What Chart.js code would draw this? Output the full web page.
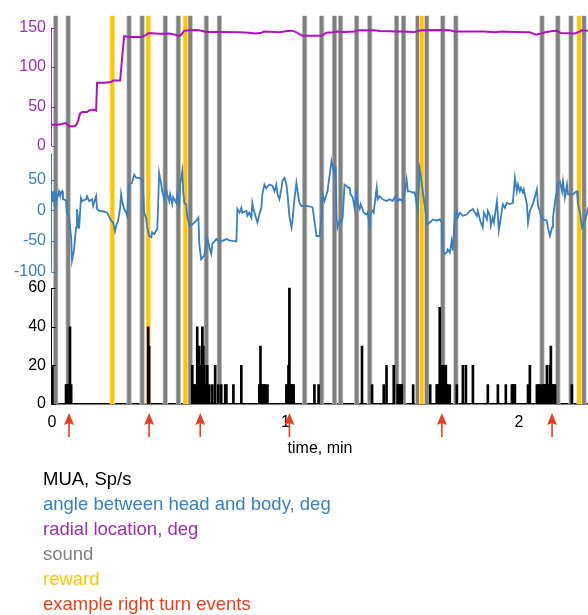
<!DOCTYPE html>
<html>
<head>
<meta charset="utf-8">
<script src="https://cdn.jsdelivr.net/npm/chart.js@4.4.1/dist/chart.umd.min.js"></script>
<style>
  body { margin: 0; background: #fff; }
  #wrap { position: relative; width: 588px; height: 615px; overflow: hidden; }
  #legend { position: absolute; left: 43px; top: 466px; font: 18.5px/25px "Liberation Sans", Arial, sans-serif; white-space: nowrap; }
</style>
</head>
<body>
<div id="wrap">
  <canvas id="myChart" width="588" height="470"></canvas>
  <div id="legend">
    <div style="color:#000">MUA, Sp/s</div>
    <div style="color:#3a7fc0">angle between head and body, deg</div>
    <div style="color:#9b2fae">radial location, deg</div>
    <div style="color:#808080">sound</div>
    <div style="color:#ffc400">reward</div>
    <div style="color:#e8401c">example right turn events</div>
  </div>
</div>
<script>
// time axis (minutes)
const xMax = 2.296;
const xTicks = [0, 1, 2];

// radial location, deg  [time, value]
const radialPts = [
  [0.000,27],[0.021,27],[0.043,28],[0.056,29],[0.064,28],[0.073,25],[0.094,25],[0.103,26],
  [0.112,32],[0.120,41],[0.129,43],[0.150,43],[0.159,45],[0.172,46],[0.180,46],[0.189,45],
  [0.193,80],[0.223,80],[0.253,81],[0.262,83],[0.292,83],[0.300,110],[0.309,139],[0.330,138],
  [0.382,138],[0.399,140],[0.416,143],[0.459,142],[0.502,142.5],[0.528,141],[0.541,139],[0.554,141],
  [0.567,146],[0.609,147],[0.631,146.5],[0.661,144.5],[0.717,144.5],[0.803,144],[0.845,143.5],[0.871,142.5],
  [0.897,143.5],[0.910,145],[0.953,144.5],[0.974,144],[1.009,145.5],[1.030,146],[1.047,144],[1.060,141.5],
  [1.073,139.5],[1.146,139.5],[1.155,140],[1.176,143.5],[1.202,144],[1.219,145],[1.253,144.5],[1.296,145],
  [1.309,146.5],[1.382,146.5],[1.403,145.5],[1.489,145],[1.554,144.5],[1.567,145.5],[1.584,146.5],[1.661,147],
  [1.704,146.5],[1.725,145],[1.790,145],[1.850,145],[1.897,144],[1.927,145],[1.983,144.5],[2.047,144],
  [2.073,141],[2.090,142],[2.112,144],[2.146,145.5],[2.163,146],[2.180,143],[2.240,142.5],[2.253,144],
  [2.270,146.5],[2.296,146]
];

// angle between head and body, deg  [time, value]
const anglePts = [
  [0.000,15],[0.004,31],[0.009,15],[0.013,31],[0.017,12],[0.030,31],[0.034,26],[0.043,31],[0.047,18],
  [0.060,16],[0.064,-4],[0.073,-12],[0.082,-44],[0.086,-82],[0.094,-66],[0.103,-28],[0.107,2],[0.116,-30],
  [0.124,20],[0.129,15],[0.146,18],[0.150,23],[0.159,15],[0.172,18],[0.176,7],[0.189,23],[0.193,2],
  [0.202,-1],[0.223,-2],[0.236,-4],[0.253,-17],[0.262,-20],[0.270,-34],[0.275,-25],[0.283,-17],[0.292,4],
  [0.296,26],[0.300,15],[0.309,2],[0.318,-4],[0.322,-9],[0.330,42],[0.343,45],[0.352,58],[0.361,53],
  [0.373,53],[0.386,50],[0.391,26],[0.395,-4],[0.403,-12],[0.408,-28],[0.416,-42],[0.425,-44],[0.429,-36],
  [0.438,-39],[0.446,-33],[0.451,-31],[0.459,61],[0.468,42],[0.472,31],[0.481,18],[0.489,36],[0.494,26],
  [0.502,15],[0.506,26],[0.515,10],[0.519,21],[0.532,12],[0.536,26],[0.545,10],[0.549,42],[0.558,64],
  [0.562,31],[0.567,12],[0.575,10],[0.579,-9],[0.588,-25],[0.601,-23],[0.618,-17],[0.627,-12],[0.631,-55],
  [0.639,-80],[0.652,-74],[0.661,-55],[0.665,-44],[0.674,-60],[0.682,-71],[0.687,-55],[0.704,-47],[0.717,-52],
  [0.730,-50],[0.747,-47],[0.760,-49],[0.773,-50],[0.790,-51],[0.794,2],[0.803,-4],[0.811,4],[0.815,-4],
  [0.833,-1],[0.837,-9],[0.845,-4],[0.854,-12],[0.858,12],[0.863,2],[0.876,-15],[0.880,-20],[0.888,-7],
  [0.897,4],[0.901,26],[0.910,42],[0.918,36],[0.931,42],[0.944,40],[0.953,31],[0.961,42],[0.966,26],
  [0.974,18],[0.983,36],[0.987,48],[0.996,53],[1.004,42],[1.009,26],[1.017,-10],[1.026,-28],[1.030,-17],
  [1.039,20],[1.047,45],[1.052,31],[1.060,12],[1.069,7],[1.090,7],[1.116,5],[1.133,-42],[1.146,-42],
  [1.155,-12],[1.159,26],[1.167,15],[1.172,21],[1.180,31],[1.197,80],[1.202,72],[1.210,58],[1.215,72],
  [1.219,-12],[1.223,-28],[1.232,-17],[1.240,-20],[1.245,-12],[1.249,15],[1.253,42],[1.262,40],[1.266,37],
  [1.275,37],[1.279,26],[1.288,21],[1.296,4],[1.305,34],[1.309,10],[1.318,2],[1.322,10],[1.330,2],
  [1.335,-4],[1.348,-7],[1.352,-4],[1.361,-25],[1.365,-4],[1.373,-1],[1.378,-4],[1.391,37],[1.395,18],
  [1.403,23],[1.416,18],[1.433,15],[1.446,18],[1.459,15],[1.472,23],[1.481,15],[1.489,18],[1.502,15],
  [1.511,29],[1.519,50],[1.524,31],[1.532,31],[1.545,29],[1.554,29],[1.562,10],[1.567,-1],[1.575,67],
  [1.579,58],[1.588,31],[1.597,7],[1.605,-17],[1.609,-23],[1.618,-20],[1.627,-17],[1.631,-15],[1.648,-17],
  [1.661,-15],[1.670,-20],[1.674,-66],[1.682,-71],[1.691,-69],[1.695,-64],[1.704,-69],[1.712,-50],[1.717,-66],
  [1.725,-12],[1.734,-1],[1.738,-12],[1.747,-4],[1.760,-9],[1.777,-7],[1.790,-1],[1.803,2],[1.807,-1],
  [1.820,-9],[1.824,-1],[1.833,-15],[1.837,-20],[1.845,-28],[1.850,-4],[1.863,-15],[1.867,-1],[1.876,-9],
  [1.880,-25],[1.888,-12],[1.893,-20],[1.906,15],[1.910,-9],[1.914,-33],[1.927,-1],[1.931,10],[1.940,4],
  [1.948,12],[1.961,10],[1.974,12],[1.983,53],[1.991,31],[1.996,42],[2.004,31],[2.009,37],[2.017,29],
  [2.021,34],[2.034,10],[2.039,-20],[2.047,-1],[2.060,10],[2.077,34],[2.082,7],[2.090,-1],[2.094,-9],
  [2.103,-15],[2.120,-17],[2.124,-28],[2.133,-42],[2.142,-28],[2.146,-12],[2.155,15],[2.163,31],[2.167,45],
  [2.176,47],[2.185,31],[2.189,47],[2.197,21],[2.206,42],[2.210,26],[2.219,26],[2.232,26],[2.240,29],
  [2.249,31],[2.253,10],[2.262,-4],[2.270,-28],[2.275,-23],[2.283,-17],[2.292,-4],[2.296,5]
];

// MUA, Sp/s  [time, rate]
const muaPts = [
  [0.002,20],
  [0.060,10],[0.064,10],[0.069,10],[0.073,10],[0.077,40],[0.082,10],
  [0.412,40],[0.416,30],
  [0.601,20],[0.605,10],[0.609,10],[0.614,10],[0.622,40],[0.631,30],[0.635,20],[0.639,20],[0.644,40],
  [0.648,30],[0.652,20],[0.657,10],[0.665,20],[0.674,10],[0.687,10],[0.699,20],[0.712,10],[0.725,10],
  [0.742,10],[0.747,10],[0.777,10],[0.811,20],
  [0.888,10],[0.893,30],[0.897,10],[0.901,10],[0.906,10],[0.910,10],[0.914,10],[0.923,10],
  [1.004,10],[1.009,10],[1.013,20],[1.017,60],[1.021,10],[1.026,10],[1.030,10],[1.035,10],
  [1.124,10],[1.142,10],
  [1.328,30],[1.371,10],[1.421,10],[1.433,20],[1.464,20],
  [1.481,10],[1.485,10],[1.489,10],[1.494,10],[1.498,10],
  [1.547,10],[1.620,10],
  [1.648,10],[1.652,10],[1.657,10],[1.661,50],[1.665,20],[1.670,20],[1.674,20],[1.678,20],[1.682,10],
  [1.687,20],[1.691,10],[1.695,10],[1.704,10],
  [1.734,10],[1.760,20],[1.773,20],[1.803,20],[1.867,10],[1.910,10],[1.944,10],
  [1.970,10],[1.974,10],[1.979,10],[1.983,10],
  [2.039,10],[2.047,20],
  [2.077,10],[2.082,10],[2.086,10],[2.094,10],
  [2.103,10],[2.107,10],[2.112,10],[2.116,10],[2.120,20],[2.124,10],[2.129,10],[2.133,20],[2.137,30],
  [2.142,10],[2.146,10],[2.150,10],[2.155,10],
  [2.227,10]
];

// event times (minutes)
const soundTimes = [0.016,0.069,0.330,0.386,0.485,0.541,0.592,0.661,0.717,1.082,1.155,1.210,1.236,
  1.305,1.361,1.476,1.506,1.567,1.605,1.674,1.730,2.099,2.167,2.223,2.279];
const rewardTimes = [0.258,0.412,0.571,1.584,2.258];
const turnTimes = [0.073,0.416,0.635,1.017,1.670,2.142];

// tick labels
const radialTicks = [0, 50, 100, 150];
const angleTicks = [-100, -50, 0, 50];
const muaTicks = [0, 20, 40, 60];

const PURPLE = '#b30fc4', PURPLE_TXT = '#9e2db2', BLUE = '#3a7fc0', RED = '#e8401c';
const FONT = { family: '"Liberation Sans", Arial, sans-serif', size: 16 };

const toXY = pts => pts.map(p => ({ x: p[0], y: p[1] }));
const fixTicks = arr => s => { s.ticks = arr.map(v => ({ value: v })); };

function yPanel(ticks, color, min, max, weight) {
  return {
    type: 'linear', position: 'left', stack: 'panels', stackWeight: weight,
    min: min, max: max, stacked: false,
    grid: { display: false, drawTicks: false },
    border: { display: false },
    ticks: { font: FONT, color: color, padding: 6 },
    afterBuildTicks: fixTicks(ticks),
    afterFit: s => { s.width = 52; }
  };
}

// axis lines with short inward ticks, only over the tick range
const axisLines = {
  id: 'axisLines',
  afterDatasetsDraw(chart) {
    const ctx = chart.ctx;
    const x0 = Math.floor(chart.chartArea.left) - 0.5;
    const axes = [['yR', 0, 150, PURPLE_TXT], ['yA', -100, 93, BLUE], ['yM', 0, 60, '#000']];
    ctx.save();
    ctx.lineWidth = 1;
    for (const [id, lo, hi, color] of axes) {
      const s = chart.scales[id];
      ctx.strokeStyle = color;
      ctx.beginPath();
      ctx.moveTo(x0, s.getPixelForValue(lo));
      ctx.lineTo(x0, s.getPixelForValue(hi));
      for (const t of s.ticks) {
        const y = Math.round(s.getPixelForValue(t.value)) + 0.5;
        ctx.moveTo(x0, y);
        ctx.lineTo(x0 + 4, y);
      }
      ctx.stroke();
    }
    ctx.restore();
  }
};

// red arrows under the time axis
const turnArrows = {
  id: 'turnArrows',
  afterDraw(chart) {
    const ctx = chart.ctx;
    const xs = chart.scales.x;
    const base = chart.chartArea.bottom;
    ctx.save();
    ctx.strokeStyle = RED;
    ctx.fillStyle = RED;
    ctx.lineWidth = 1.6;
    for (const t of turnTimes) {
      const x = xs.getPixelForValue(t);
      ctx.beginPath();
      ctx.moveTo(x, base + 18);
      ctx.lineTo(x, base + 33);
      ctx.stroke();
      ctx.beginPath();
      ctx.moveTo(x, base + 9);
      ctx.lineTo(x + 5, base + 21);
      ctx.lineTo(x, base + 19);
      ctx.lineTo(x - 5, base + 21);
      ctx.closePath();
      ctx.fill();
    }
    ctx.restore();
  }
};

const ctx = document.getElementById('myChart').getContext('2d');
const myChart = new Chart(ctx, {
  type: 'line',
  data: {
    datasets: [
      {
        label: 'radial location, deg',
        data: toXY(radialPts),
        yAxisID: 'yR',
        borderColor: PURPLE,
        borderWidth: 2,
        pointRadius: 0,
        tension: 0,
        order: 1
      },
      {
        label: 'angle between head and body, deg',
        data: toXY(anglePts),
        yAxisID: 'yA',
        borderColor: BLUE,
        borderWidth: 1.8,
        pointRadius: 0,
        tension: 0,
        order: 2
      },
      {
        type: 'bar',
        label: 'MUA, Sp/s',
        data: toXY(muaPts),
        yAxisID: 'yM',
        stack: 'all',
        backgroundColor: '#000',
        barThickness: 2,
        order: 3
      },
      {
        type: 'bar',
        label: 'sound',
        data: soundTimes.map(t => ({ x: t, y: 1 })),
        yAxisID: 'yE',
        stack: 'all',
        backgroundColor: '#808080',
        borderColor: '#cacaca',
        borderWidth: { left: 1, right: 1, top: 0, bottom: 0 },
        borderSkipped: false,
        barThickness: 5,
        order: 10
      },
      {
        type: 'bar',
        label: 'reward',
        data: rewardTimes.map(t => ({ x: t, y: 1 })),
        yAxisID: 'yE',
        stack: 'all',
        backgroundColor: '#ffc600',
        borderColor: '#ffe390',
        borderWidth: { left: 1, right: 1, top: 0, bottom: 0 },
        borderSkipped: false,
        barThickness: 5,
        order: 9
      }
    ]
  },
  options: {
    responsive: false,
    animation: false,
    layout: { padding: { top: 14, left: 0, right: 0, bottom: 0 } },
    plugins: {
      legend: { display: false },
      tooltip: { enabled: false }
    },
    scales: {
      x: {
        type: 'linear',
        min: 0,
        max: xMax,
        offset: false,
        grid: { display: false, drawTicks: false, offset: false },
        border: { color: '#000', width: 1.5 },
        ticks: { font: FONT, color: '#000', padding: 9 },
        afterBuildTicks: fixTicks(xTicks),
        title: { display: true, text: 'time, min', font: FONT, color: '#000', padding: { top: 0, bottom: 12 } },
        afterFit: s => { s.height = 66; }
      },
      // left stack is laid out from the last defined scale downwards
      yM: yPanel(muaTicks, '#000', 0, 63.4, 123),
      yA: yPanel(angleTicks, BLUE, -116.3, 96.7, 131),
      yR: yPanel(radialTicks, PURPLE_TXT, -6.3, 165.1, 136),
      yE: { display: false, min: 0, max: 1, stacked: false }
    }
  },
  plugins: [axisLines, turnArrows]
});
</script>
</body>
</html>
